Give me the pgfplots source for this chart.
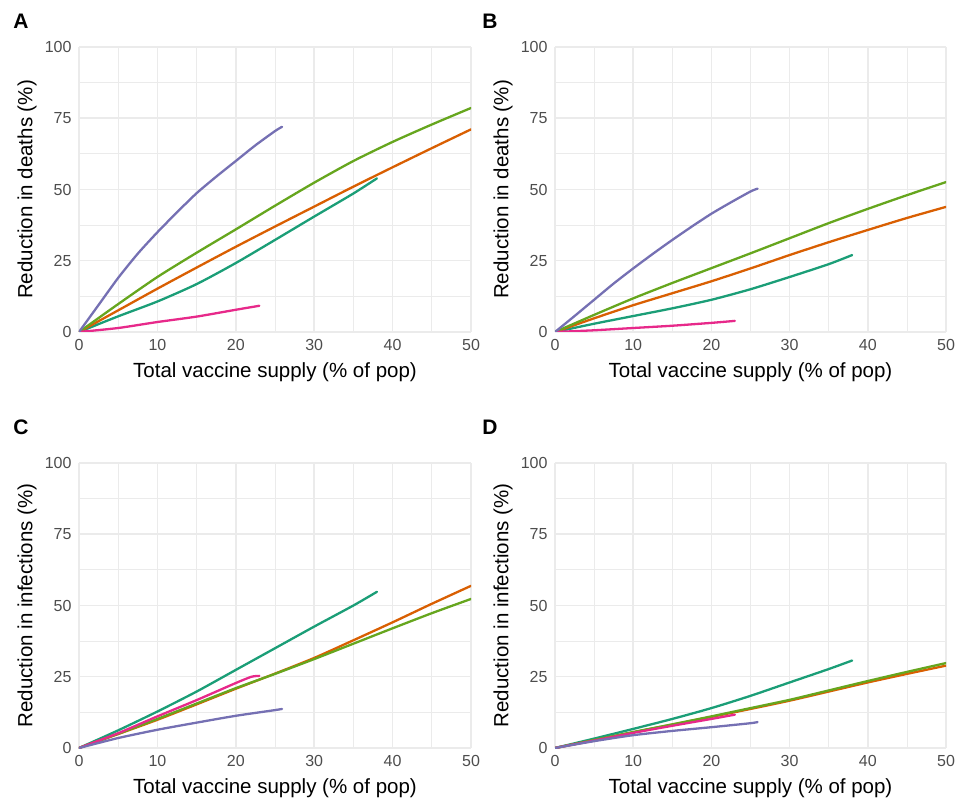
\documentclass[border=0pt]{standalone}
\usepackage{fontspec}
\setmainfont{Liberation Sans}
\usepackage{pgfplots}
\pgfplotsset{compat=1.18}
\definecolor{cteal}{HTML}{1B9E77}
\definecolor{corange}{HTML}{D95F02}
\definecolor{cpurple}{HTML}{7570B3}
\definecolor{cpink}{HTML}{E7298A}
\definecolor{cgreen}{HTML}{66A61E}
\definecolor{gridc}{HTML}{EBEBEB}
\definecolor{tickc}{HTML}{4D4D4D}
\pgfplotsset{
 panel/.style={
  width=392pt, height=285pt, scale only axis, anchor=south west,
  xmin=0,xmax=50,ymin=0,ymax=100,
  xtick={0,10,20,30,40,50}, ytick={0,25,50,75,100},
  minor xtick={5,15,25,35,45}, minor ytick={12.5,37.5,62.5,87.5},
  grid=both,
  major grid style={draw=gridc, line width=1.5pt},
  minor grid style={draw=gridc, line width=0.8pt},
  axis line style={draw=none},
  tick style={draw=none},
  ticklabel style={font=\fontsize{16}{18}\selectfont, text=tickc},
  xticklabel style={yshift=-4pt},
  yticklabel style={xshift=-4pt},
  /pgf/number format/assume math mode=true,
  xlabel={Total vaccine supply (\% of pop)},
  xlabel style={at={(axis description cs:0.5,-0.1404)}, anchor=center, font=\fontsize{20.5}{22}\selectfont},
  ylabel style={at={(axis description cs:-0.1327,0.5)}, anchor=center, font=\fontsize{20.5}{22}\selectfont},
  every axis plot/.append style={line width=2.3pt, mark=none, smooth, tension=0.4, line join=round, line cap=round},
 }
}
\begin{document}
\begin{tikzpicture}
\useasboundingbox (0,0) rectangle (959pt,801pt);
% Panel A
\begin{axis}[panel, at={(79pt,469pt)}, ylabel={Reduction in deaths (\%)}]
\addplot[cteal] coordinates {(0,0) (5,5.5) (10,10.7) (15,16.8) (20,24.2) (25,32.3) (30,40.5) (35,48.6) (38,53.9)};
\addplot[corange] coordinates {(0,0) (5,7.6) (10,15.2) (15,22.6) (20,29.9) (25,37) (30,44) (35,51) (40,57.8) (45,64.5) (50,71.1)};
\addplot[cgreen] coordinates {(0,0) (5,9.8) (10,19.3) (15,27.8) (20,36) (25,44.3) (30,52.4) (35,60) (40,66.7) (45,72.8) (50,78.6)};
\addplot[cpink] coordinates {(0,0) (5,1.4) (10,3.5) (15,5.4) (20,7.8) (23,9.2)};
\addplot[cpurple] coordinates {(0,0) (2.5,9.5) (5,19) (7.5,27.5) (10,35) (12.5,42) (15,48.7) (17.5,54.5) (20,60) (22.5,65.5) (25,70.5) (25.9,72)};
\end{axis}
% Panel B
\begin{axis}[panel, width=391pt, at={(555pt,469pt)}, ylabel={Reduction in deaths (\%)}]
\addplot[cteal] coordinates {(0,0) (5,2.9) (10,5.6) (15,8.3) (20,11.3) (25,15) (30,19.3) (35,23.8) (38,27)};
\addplot[corange] coordinates {(0,0) (5,4.8) (10,9.4) (15,13.6) (20,17.8) (25,22.3) (30,27) (35,31.5) (40,35.8) (45,40) (50,43.9)};
\addplot[cgreen] coordinates {(0,0) (5,6) (10,11.8) (15,17.2) (20,22.4) (25,27.6) (30,32.9) (35,38.2) (40,43.2) (45,48) (50,52.6)};
\addplot[cpink] coordinates {(0,0) (5,0.6) (10,1.4) (15,2.2) (20,3.2) (23,3.9)};
\addplot[cpurple] coordinates {(0,0) (2.5,5.6) (5,11.3) (7.5,17) (10,22.3) (12.5,27.4) (15,32.3) (17.5,37) (20,41.5) (22.5,45.5) (25,49.3) (25.9,50.3)};
\end{axis}
% Panel C
\begin{axis}[panel, at={(79pt,53pt)}, ylabel={Reduction in infections (\%)}]
\addplot[cteal] coordinates {(0,0) (5,6.2) (10,12.8) (15,19.8) (20,27.4) (25,35) (30,42.6) (35,50) (38,54.8)};
\addplot[corange] coordinates {(0,0) (5,4.9) (10,9.9) (15,15.3) (20,20.8) (25,26.1) (30,31.6) (35,37.8) (40,44.1) (45,50.6) (50,56.9)};
\addplot[cgreen] coordinates {(0,0) (5,5) (10,10.2) (15,15.6) (20,21) (25,26) (30,31.2) (35,36.6) (40,42) (45,47.3) (50,52.3)};
\addplot[cpink] coordinates {(0,0) (5,5.2) (10,11.1) (15,16.8) (20,22.8) (22,25) (23,25.3)};
\addplot[cpurple] coordinates {(0,0) (5,3.5) (10,6.4) (15,8.9) (20,11.3) (25,13.3) (25.9,13.7)};
\end{axis}
% Panel D
\begin{axis}[panel, width=391pt, at={(555pt,53pt)}, ylabel={Reduction in infections (\%)}]
\addplot[cteal] coordinates {(0,0) (5,3.3) (10,6.7) (15,10.2) (20,14) (25,18.3) (30,23) (35,27.7) (38,30.7)};
\addplot[corange] coordinates {(0,0) (5,2.7) (10,5.5) (15,8.2) (20,10.9) (25,13.7) (30,16.6) (35,19.8) (40,23) (45,26) (50,28.9)};
\addplot[cgreen] coordinates {(0,0) (5,2.8) (10,5.6) (15,8.3) (20,11.1) (25,14) (30,16.9) (35,20.2) (40,23.5) (45,26.7) (50,29.8)};
\addplot[cpink] coordinates {(0,0) (5,2.6) (10,5.3) (15,7.8) (20,10.2) (23,11.7)};
\addplot[cpurple] coordinates {(0,0) (5,2.4) (10,4.5) (15,6) (20,7.3) (25,8.7) (25.9,9.1)};
\end{axis}
\node[font=\bfseries\fontsize{21}{24}\selectfont] at (21pt,780pt) {A};
\node[font=\bfseries\fontsize{21}{24}\selectfont] at (490pt,780pt) {B};
\node[font=\bfseries\fontsize{21}{24}\selectfont] at (21pt,374pt) {C};
\node[font=\bfseries\fontsize{21}{24}\selectfont] at (490pt,374pt) {D};
\end{tikzpicture}
\end{document}
